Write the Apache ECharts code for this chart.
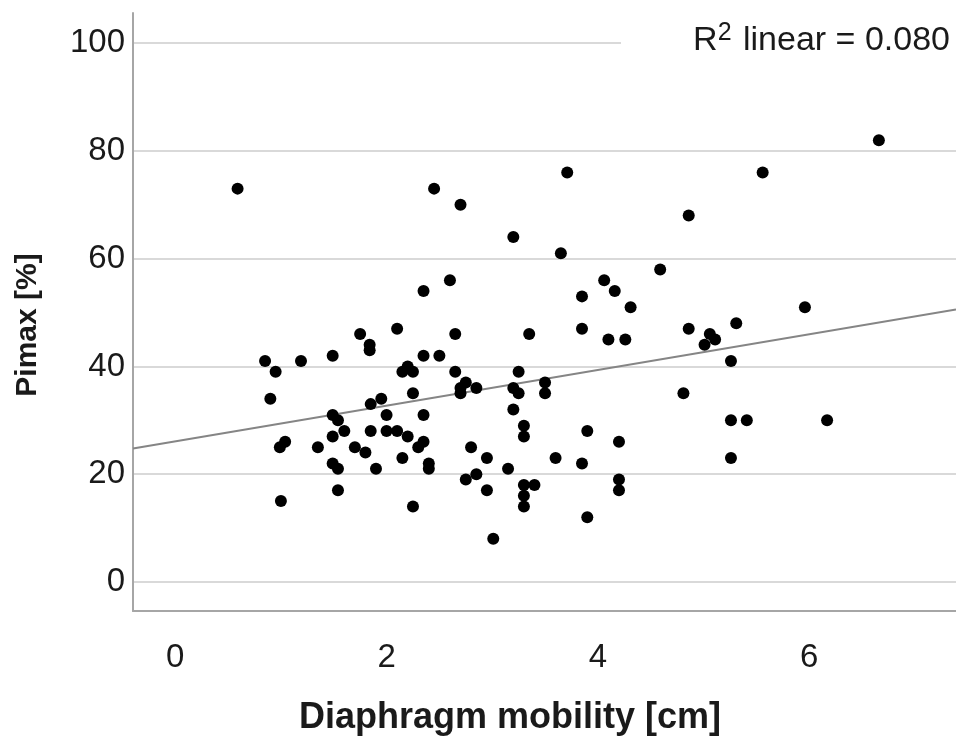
<!DOCTYPE html>
<html>
<head>
<meta charset="utf-8">
<script src="https://cdn.jsdelivr.net/npm/echarts@6/dist/echarts.min.js"></script>
<style>
html,body{margin:0;padding:0;background:#fff;}
#chart{width:956px;height:742px;}
</style>
</head>
<body>
<div id="chart"></div>
<script>
// Diaphragm mobility [cm]
var mobility = [0.59,0.85,0.95,0.90,1.19,0.99,1.04,1.00,1.35,1.49,1.49,1.54,1.60,1.49,1.49,1.54,1.54,1.70,1.75,1.80,
  1.84,1.84,1.85,1.85,1.90,1.95,2.00,2.00,2.10,2.10,2.15,2.20,2.25,2.25,2.20,2.35,2.30,2.35,2.15,2.40,
  2.40,2.25,2.35,2.50,2.35,2.45,2.60,2.65,2.65,2.70,2.70,2.75,2.70,2.85,2.80,2.95,2.75,2.85,2.95,3.01,
  3.15,3.20,3.25,3.20,3.25,3.20,3.30,3.30,3.30,3.40,3.30,3.30,3.35,3.50,3.50,3.60,3.65,3.71,3.85,3.85,
  3.85,3.90,3.90,4.06,4.10,4.16,4.20,4.20,4.20,4.26,4.31,4.59,4.81,4.86,4.86,5.01,5.06,5.11,5.26,5.26,
  5.26,5.31,5.41,5.56,5.96,6.17,6.66];
// Pimax [%]
var pimax = [73,41,39,34,41,25,26,15,25,42,31,30,28,27,22,21,17,25,46,24,
  44,43,33,28,21,34,31,28,28,47,39,40,39,35,27,31,25,26,23,22,
  21,14,42,42,54,73,56,46,39,70,36,37,35,36,25,23,19,20,17,8,
  21,64,39,36,35,32,29,27,18,18,16,14,46,37,35,23,61,76,53,47,
  22,28,12,56,45,54,26,19,17,45,51,58,35,68,47,44,46,45,41,30,
  23,48,30,76,51,30,82];
// fit line: intercept, slope
var fitIntercept = 26.1;
var fitSlope = 3.31;
var xRange = [-0.40, 7.39];
var yRange = [-5.4, 105.6];
var xTitle = 'Diaphragm mobility [cm]';
var yTitle = 'Pimax [%]';
var r2Label = 'R{s|2} linear = 0.080';

var points = mobility.map(function(v, i){ return [v, pimax[i]]; });
var fitLine = xRange.map(function(x){ return [x, fitIntercept + fitSlope * x]; });

var FONT = 'Liberation Sans, Arial, sans-serif';
var chart = echarts.init(document.getElementById('chart'));
chart.setOption({
  animation: false,
  backgroundColor: '#fff',
  grid: {left: 133, right: 0, top: 13, bottom: 131, containLabel: false},
  xAxis: {
    type: 'value', min: xRange[0], max: xRange[1], splitNumber: 5,
    axisLine: {show: true, onZero: false, lineStyle: {color: '#a6a6a6', width: 2}},
    axisTick: {show: false},
    splitLine: {show: false},
    axisLabel: {showMinLabel: false, showMaxLabel: false, margin: 30,
      color: '#1a1a1a', fontSize: 33, fontFamily: FONT}
  },
  yAxis: {
    type: 'value', min: yRange[0], max: yRange[1], splitNumber: 5,
    axisLine: {show: true, onZero: false, lineStyle: {color: '#a6a6a6', width: 2}},
    axisTick: {show: false},
    splitLine: {show: true, showMinLine: false, showMaxLine: false,
      lineStyle: {color: '#d9d9d9', width: 2}},
    axisLabel: {showMinLabel: false, showMaxLabel: false, margin: 8,
      color: '#1a1a1a', fontSize: 33, fontFamily: FONT}
  },
  graphic: [
    {type: 'rect', z: 100, shape: {x: 621, y: 34, width: 335, height: 16}, style: {fill: '#fff'}},
    {type: 'text', z: 101, right: 6, top: 21,
      style: {text: r2Label, fill: '#1a1a1a', font: '34px ' + FONT,
        rich: {s: {fontSize: 25, fontFamily: FONT, fill: '#1a1a1a', verticalAlign: 'top', padding: [0, 2, 14, 0]}}}},
    {type: 'text', z: 101, x: 510, y: 718,
      style: {text: xTitle, fill: '#1a1a1a', font: 'bold 36px ' + FONT, align: 'center', verticalAlign: 'middle'}},
    {type: 'text', z: 101, x: 28, y: 325, rotation: Math.PI / 2,
      style: {text: yTitle, fill: '#1a1a1a', font: 'bold 30px ' + FONT, align: 'center', verticalAlign: 'middle'}}
  ],
  series: [
    {type: 'line', data: fitLine, symbol: 'none', silent: true, z: 1,
      lineStyle: {color: '#858585', width: 2}},
    {type: 'scatter', data: points, symbol: 'circle', symbolSize: 12, z: 2,
      itemStyle: {color: '#000', opacity: 1}}
  ]
});
</script>
</body>
</html>
